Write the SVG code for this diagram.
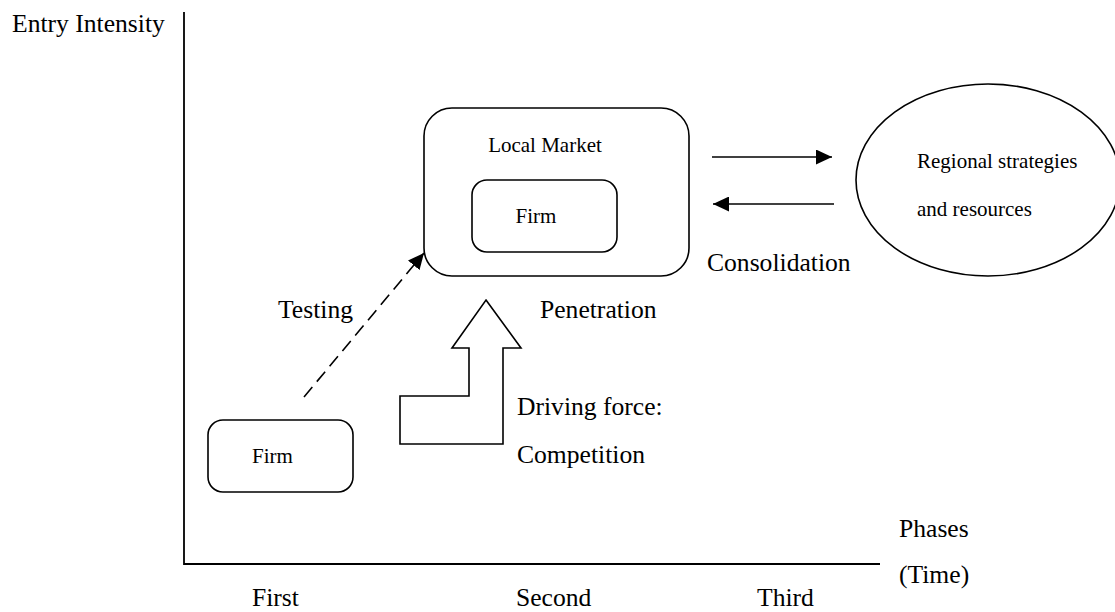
<svg xmlns="http://www.w3.org/2000/svg" width="1115" height="612" viewBox="0 0 1115 612">
  <defs>
    <style>
      .lbl { font-family: "Liberation Serif", "Times New Roman", serif; font-size: 25.6px; fill: #000; }
      .sm { font-family: "Liberation Serif", "Times New Roman", serif; font-size: 21px; fill: #000; }
      .shape { fill: #fff; stroke: #000; stroke-width: 1.6; }
      .axis { fill: none; stroke: #000; stroke-width: 1.8; }
      .link { fill: none; stroke: #000; stroke-width: 1.6; }
      .dash { stroke-dasharray: 13 7; }
    </style>
    <marker id="head" markerUnits="userSpaceOnUse" markerWidth="16" markerHeight="15" refX="16" refY="7.5" orient="auto">
      <path d="M0,0 L16,7.5 L0,15 Z" fill="#000" stroke="none"/>
    </marker>
  </defs>

  <rect width="1115" height="612" fill="#fff"/>

  <!-- axes -->
  <g id="axes">
    <path class="axis" d="M184,12 V564 H880"/>
    <text class="lbl" x="12" y="32">Entry Intensity</text>
    <text class="lbl" x="899" y="537">Phases</text>
    <text class="lbl" x="899" y="583">(Time)</text>
    <text class="lbl" x="252" y="606">First</text>
    <text class="lbl" x="516" y="606">Second</text>
    <text class="lbl" x="757" y="606">Third</text>
  </g>

  <!-- first phase firm -->
  <g id="firm-first">
    <rect class="shape" x="208" y="420" width="145" height="72" rx="15"/>
    <text class="sm" x="252" y="463">Firm</text>
  </g>

  <!-- local market containing the firm -->
  <g id="local-market">
    <rect class="shape" x="424" y="108" width="265" height="168" rx="28"/>
    <text class="sm" x="545" y="152" text-anchor="middle">Local Market</text>
  </g>
  <g id="firm-local">
    <rect class="shape" x="472" y="180" width="145" height="72" rx="15"/>
    <text class="sm" x="536" y="223" text-anchor="middle">Firm</text>
  </g>

  <!-- regional ellipse -->
  <g id="regional">
    <ellipse class="shape" cx="988" cy="180" rx="132" ry="96"/>
    <text class="sm" x="917" y="168">Regional strategies</text>
    <text class="sm" x="917" y="216">and resources</text>
  </g>

  <!-- driving force block arrow -->
  <g id="driving-force">
    <path class="shape" d="M486,300 L521,348 L503,348 L503,444 L400,444 L400,396 L469,396 L469,348 L452,348 Z"/>
    <text class="lbl" x="517" y="415">Driving force:</text>
    <text class="lbl" x="517" y="463">Competition</text>
  </g>

  <!-- connectors -->
  <g id="connectors">
    <line class="link dash" x1="304" y1="397" x2="424" y2="253" marker-end="url(#head)"/>
    <line class="link" x1="712" y1="157" x2="832" y2="157" marker-end="url(#head)"/>
    <line class="link" x1="834" y1="204" x2="713" y2="204" marker-end="url(#head)"/>
  </g>

  <!-- phase labels -->
  <g id="phase-labels">
    <text class="lbl" x="278" y="318">Testing</text>
    <text class="lbl" x="540" y="318">Penetration</text>
    <text class="lbl" x="707" y="271">Consolidation</text>
  </g>
</svg>
